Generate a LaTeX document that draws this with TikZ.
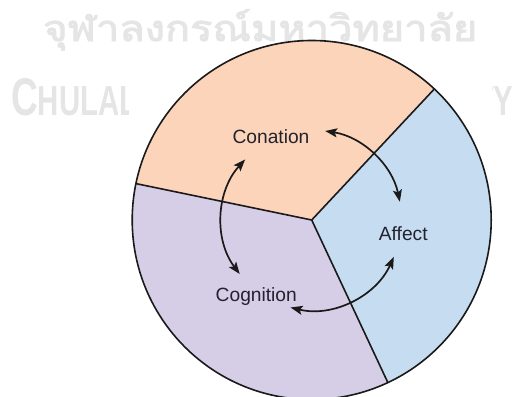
\documentclass[tikz,border=0pt]{standalone}
\usepackage{fontspec}
\usepackage{graphicx}
\setmainfont{Liberation Sans}
\newfontfamily\thaifont[Script=Thai,AutoFakeBold=2.5]{Loma}
\usetikzlibrary{arrows.meta}

\definecolor{conationfill}{HTML}{FBD4B9}
\definecolor{cognitionfill}{HTML}{D6CEE6}
\definecolor{affectfill}{HTML}{C6DCF0}
\definecolor{rimink}{HTML}{1A1A1A}
\definecolor{termink}{HTML}{23222E}
\definecolor{wmgray}{HTML}{E5E5E5}

\newcommand{\wmlarge}[1]{{\fontsize{53bp}{53bp}\selectfont #1}}
\newcommand{\wmsmall}[1]{{\fontsize{42bp}{42bp}\selectfont #1}}

\begin{document}
\begin{tikzpicture}[x=1bp,y=1bp,
  rim/.style={draw=rimink, line width=1.6bp, line join=round},
  cyc/.style={draw=rimink, line width=1.7bp,
    {Stealth[length=12bp,width=9bp,inset=2.5bp]}-{Stealth[length=12bp,width=9bp,inset=2.5bp]}},
  termtext/.style={font=\fontsize{19.2bp}{23bp}\selectfont, text=termink, inner sep=0pt, anchor=base},
  wmtext/.style={text=wmgray, inner sep=0pt}]
\useasboundingbox (0,0) rectangle (513,396);
\fill[white] (0,0) rectangle (513,396);

% background watermark
\node[wmtext, anchor=base west] (thai) at (43,355)
  {\resizebox{434bp}{\height}{\thaifont\bfseries\fontsize{36bp}{36bp}\selectfont จุฬาลงกรณ์มหาวิทยาลัย}};
\node[wmtext, anchor=base west] (uniname) at (11,281)
  {\scalebox{0.7}[1]{\bfseries\wmlarge{C}\wmsmall{HULALONGKORN}}};
\node[wmtext, anchor=base east] (uniword) at (513,281)
  {\scalebox{0.7}[1]{\bfseries\wmlarge{U}\wmsmall{NIVERSITY}}};

% white panel of the figure, laid over the watermark
\fill[white] (129,0) rectangle (492,353);

% the three sectors of the circle
\def\R{179.5bp}
\coordinate (o) at (311.7,176);
\fill[conationfill] (o) -- ++(46.9:\R) arc[start angle=46.9, end angle=168.3, radius=\R] -- cycle;
\fill[cognitionfill] (o) -- ++(168.3:\R) arc[start angle=168.3, end angle=295.1, radius=\R] -- cycle;
\fill[affectfill] (o) -- ++(-64.9:\R) arc[start angle=-64.9, end angle=46.9, radius=\R] -- cycle;
\draw[rim] (o) -- ++(46.9:\R) (o) -- ++(168.3:\R) (o) -- ++(-64.9:\R);
\draw[rim] (o) circle[radius=\R];

% labels
\node[termtext] (conation) at (271,252.7) {Conation};
\node[termtext] (affect) at (403.3,156) {Affect};
\node[termtext] (cognition) at (256.3,94.3) {Cognition};

% two-way cycle arrows
\draw[cyc] ([shift={(81.4:90bp)}]o) arc[start angle=81.4, end angle=11.7, radius=90bp];
\draw[cyc] ([shift={(137.7:90bp)}]o) arc[start angle=137.7, end angle=216.9, radius=90bp];
\draw[cyc] ([shift={(-24.2:90bp)}]o) arc[start angle=-24.2, end angle=-103.6, radius=90bp];
\end{tikzpicture}
\end{document}
